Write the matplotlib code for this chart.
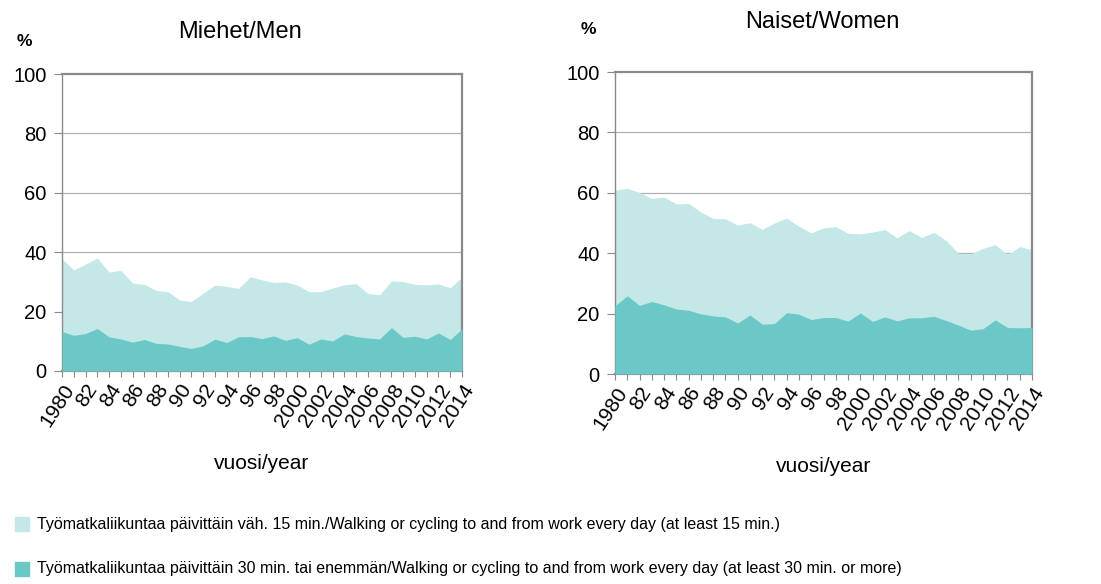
import numpy as np
import matplotlib
matplotlib.use("Agg")
import matplotlib.pyplot as plt

years = list(range(1980, 2015))

men_15 = [37.8, 34.0, 36.0, 38.0, 33.3, 33.9, 29.6, 29.2, 27.1, 26.7,
          23.9, 23.4, 26.2, 28.9, 28.5, 27.8, 31.7, 30.7, 29.8, 30.0,
          28.9, 26.7, 26.7, 27.9, 29.0, 29.4, 26.1, 25.7, 30.3, 30.1,
          29.2, 29.0, 29.3, 28.0, 31.6]
men_30 = [13.3, 12.0, 12.6, 14.3, 11.5, 10.8, 9.7, 10.6, 9.3, 9.1,
          8.3, 7.6, 8.5, 10.7, 9.6, 11.5, 11.6, 10.9, 11.8, 10.3,
          11.2, 9.0, 10.8, 10.1, 12.5, 11.6, 11.1, 10.8, 14.6, 11.3,
          11.7, 10.8, 12.8, 10.6, 14.2]
women_15 = [60.8, 61.5, 60.1, 58.1, 58.6, 56.3, 56.5, 53.6, 51.5, 51.4,
            49.3, 50.1, 47.9, 50.0, 51.6, 48.9, 46.7, 48.4, 48.8, 46.6,
            46.4, 47.0, 47.8, 45.1, 47.5, 45.2, 46.9, 44.2, 40.0, 39.8,
            41.6, 42.8, 39.6, 42.2, 41.1]
women_30 = [22.6, 25.9, 22.7, 24.0, 22.9, 21.5, 21.1, 19.9, 19.2, 18.9,
            16.9, 19.5, 16.5, 16.7, 20.3, 19.8, 18.0, 18.7, 18.7, 17.5,
            20.2, 17.4, 18.9, 17.6, 18.6, 18.6, 19.1, 17.7, 16.2, 14.5,
            15.0, 17.9, 15.4, 15.3, 15.4]

tick_labels = []
for y in years:
    if y % 2 == 1:
        tick_labels.append("")
    elif y == 1980 or y >= 2000:
        tick_labels.append(str(y))
    else:
        tick_labels.append(str(y)[2:])

label_15 = ("Työmatkaliikuntaa päivittäin väh. 15 min./Walking or cycling "
            "to and from work every day (at least 15 min.)")
label_30 = ("Työmatkaliikuntaa päivittäin 30 min. tai enemmän/Walking or "
            "cycling to and from work every day (at least 30 min. or more)")

LIGHT = "#c3e8e7"
DARK = "#6bc8c6"
SPINE = "#8a8a8a"

plt.rcParams["font.family"] = ["Liberation Sans", "DejaVu Sans"]

fig = plt.figure(figsize=(11.01, 5.84), dpi=100)
ax_m = fig.add_axes([62 / 1101, 213 / 584, 400 / 1101, 297 / 584])
ax_w = fig.add_axes([615 / 1101, 210 / 584, 417 / 1101, 302 / 584])


def draw(ax, v15, v30):
    ax.fill_between(years, 0, v15, color=LIGHT, lw=0, zorder=2)
    ax.fill_between(years, 0, v30, color=DARK, lw=0, zorder=3)
    ax.set_xlim(1980, 2014)
    ax.set_ylim(0, 100)
    ax.set_yticks(range(0, 101, 20))
    ax.set_yticklabels([str(v) for v in range(0, 101, 20)], fontsize=14.5)
    for g in (20, 40, 60, 80):
        ax.axhline(g, color="#b0b0b0", lw=0.9, zorder=1)
    ax.set_xticks(years)
    ax.set_xticklabels(tick_labels, rotation=57, ha="right",
                       rotation_mode="anchor", fontsize=15)
    ax.tick_params(axis="y", length=6, color=SPINE, direction="out", pad=5)
    ax.tick_params(axis="x", length=4, color=SPINE, direction="out", pad=3)
    for side in ("top", "right", "bottom"):
        ax.spines[side].set_color(SPINE)
        ax.spines[side].set_linewidth(1.6)
    ax.spines["left"].set_color(SPINE)
    ax.spines["left"].set_linewidth(1.0)
    ax.set_xlabel("vuosi/year", fontsize=15, labelpad=17)


draw(ax_m, men_15, men_30)
draw(ax_w, women_15, women_30)

fig.text(240 / 1101, 1 - 32 / 584, "Miehet/Men", fontsize=17,
         ha="center", va="center")
fig.text(822 / 1101, 1 - 22 / 584, "Naiset/Women", fontsize=17,
         ha="center", va="center")
fig.text(24 / 1101, 1 - 42 / 584, "%", fontsize=12.5, fontweight="bold",
         ha="center", va="center")
fig.text(588 / 1101, 1 - 30 / 584, "%", fontsize=12.5, fontweight="bold",
         ha="center", va="center")

# legend drawn as separate rows
for ypix, col, lab in ((524, LIGHT, label_15), (569, DARK, label_30)):
    fig.patches.append(plt.Rectangle((15 / 1101, 1 - (ypix + 7) / 584),
                                     14 / 1101, 14 / 584, color=col,
                                     transform=fig.transFigure, figure=fig))
    fig.text(37 / 1101, 1 - ypix / 584, lab, fontsize=11.5,
             ha="left", va="center")

fig.savefig("out.png", dpi=100)
